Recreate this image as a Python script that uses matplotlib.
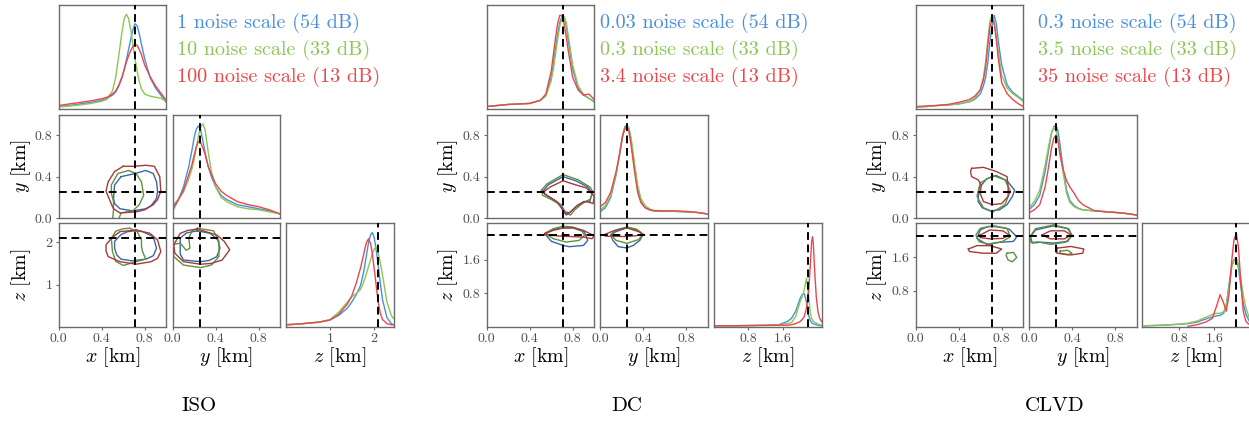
import numpy as np
import matplotlib.pyplot as plt

plt.rcParams['font.family'] = 'cmr10'
plt.rcParams['mathtext.fontset'] = 'cm'
plt.rcParams['axes.unicode_minus'] = False

# ---------------- data ----------------
# marginal curves are given as fraction of the panel height
# ISO
iso_x_grid = [0, 0.1, 0.2, 0.3, 0.4, 0.45, 0.5, 0.53, 0.56, 0.59, 0.61, 0.63, 0.65, 0.67, 0.69, 0.71, 0.73, 0.75, 0.77, 0.8, 0.85, 0.9, 0.95, 1.0]
iso_x_blue = [0.02, 0.03, 0.045, 0.06, 0.08, 0.1, 0.13, 0.16, 0.22, 0.3, 0.38, 0.47, 0.57, 0.67, 0.76, 0.82, 0.8, 0.72, 0.62, 0.48, 0.3, 0.2, 0.13, 0.06]
iso_x_green = [0.015, 0.025, 0.035, 0.05, 0.07, 0.09, 0.17, 0.3, 0.52, 0.75, 0.87, 0.91, 0.87, 0.76, 0.62, 0.48, 0.36, 0.26, 0.19, 0.14, 0.12, 0.11, 0.1, 0.07]
iso_x_red = [0.03, 0.045, 0.06, 0.075, 0.095, 0.11, 0.14, 0.17, 0.23, 0.31, 0.38, 0.45, 0.51, 0.56, 0.6, 0.62, 0.61, 0.57, 0.52, 0.42, 0.31, 0.22, 0.15, 0.08]

iso_y_grid = [0, 0.05, 0.1, 0.15, 0.18, 0.2, 0.22, 0.24, 0.26, 0.28, 0.3, 0.33, 0.36, 0.4, 0.45, 0.5, 0.6, 0.7, 0.8, 0.9, 1.0]
iso_y_blue = [0.07, 0.17, 0.3, 0.5, 0.66, 0.78, 0.86, 0.89, 0.85, 0.75, 0.64, 0.5, 0.4, 0.3, 0.22, 0.18, 0.13, 0.11, 0.09, 0.07, 0.04]
iso_y_green = [0.12, 0.18, 0.25, 0.38, 0.48, 0.57, 0.68, 0.8, 0.88, 0.91, 0.86, 0.64, 0.45, 0.3, 0.2, 0.16, 0.11, 0.09, 0.08, 0.06, 0.04]
iso_y_red = [0.1, 0.17, 0.27, 0.42, 0.52, 0.61, 0.69, 0.74, 0.73, 0.68, 0.62, 0.5, 0.42, 0.33, 0.26, 0.22, 0.16, 0.13, 0.11, 0.08, 0.04]

iso_z_grid = [0, 0.25, 0.5, 0.75, 1.0, 1.2, 1.4, 1.5, 1.6, 1.7, 1.77, 1.83, 1.88, 1.93, 1.97, 2.01, 2.05, 2.1, 2.15, 2.2, 2.3, 2.4, 2.45]
iso_z_blue = [0.02, 0.025, 0.035, 0.045, 0.065, 0.11, 0.18, 0.24, 0.31, 0.4, 0.53, 0.68, 0.81, 0.89, 0.91, 0.86, 0.76, 0.6, 0.42, 0.26, 0.09, 0.03, 0.02]
iso_z_green = [0.02, 0.025, 0.035, 0.045, 0.07, 0.14, 0.24, 0.29, 0.32, 0.36, 0.43, 0.51, 0.58, 0.65, 0.71, 0.75, 0.77, 0.72, 0.62, 0.5, 0.24, 0.11, 0.08]
iso_z_red = [0.02, 0.025, 0.035, 0.045, 0.065, 0.12, 0.22, 0.3, 0.42, 0.57, 0.7, 0.81, 0.85, 0.8, 0.7, 0.56, 0.42, 0.24, 0.13, 0.07, 0.03, 0.02, 0.02]

iso_xy_blue = [(0.58, 0.40), (0.71, 0.43), (0.81, 0.46), (0.88, 0.43), (0.91, 0.35), (0.92, 0.26), (0.91, 0.19),
               (0.86, 0.12), (0.81, 0.09), (0.69, 0.07), (0.57, 0.09), (0.52, 0.14), (0.51, 0.19), (0.52, 0.32)]
iso_xy_green = [(0.50, -0.03), (0.51, 0.08), (0.51, 0.16), (0.49, 0.24), (0.49, 0.32), (0.55, 0.43), (0.65, 0.46),
                (0.72, 0.43), (0.77, 0.35), (0.79, 0.22), (0.75, 0.13), (0.69, 0.07), (0.58, 0.05), (0.55, -0.03)]
iso_xy_red = [(0.60, 0.50), (0.70, 0.50), (0.81, 0.51), (0.89, 0.50), (0.94, 0.40), (0.95, 0.26), (0.92, 0.18),
              (0.88, 0.13), (0.80, 0.08), (0.72, 0.06), (0.57, 0.05), (0.51, 0.09), (0.48, 0.16), (0.44, 0.26),
              (0.46, 0.35), (0.52, 0.45)]
iso_xz_blue = [(0.71, 2.27), (0.78, 2.25), (0.88, 2.13), (0.91, 1.86), (0.88, 1.68), (0.81, 1.60), (0.68, 1.56),
               (0.58, 1.60), (0.54, 1.70), (0.52, 1.86), (0.52, 2.02), (0.58, 2.18), (0.64, 2.25)]
iso_xz_green = [(0.66, 2.33), (0.73, 2.25), (0.77, 2.05), (0.77, 1.90), (0.78, 1.78), (0.81, 1.60), (0.72, 1.54),
                (0.60, 1.45), (0.53, 1.55), (0.50, 1.78), (0.49, 2.09), (0.53, 2.26), (0.60, 2.32)]
iso_xz_red = [(0.72, 2.29), (0.85, 2.21), (0.92, 2.05), (0.95, 1.78), (0.92, 1.62), (0.86, 1.54), (0.72, 1.48),
              (0.57, 1.54), (0.46, 1.66), (0.44, 1.80), (0.44, 1.94), (0.50, 2.12), (0.57, 2.25)]
iso_yz_blue = [(0.23, 2.27), (0.35, 2.21), (0.42, 2.05), (0.44, 1.86), (0.41, 1.66), (0.34, 1.57), (0.26, 1.54),
               (0.10, 1.58), (0.07, 1.72), (0.07, 1.86), (0.07, 2.10), (0.13, 2.22)]
iso_yz_green = [(0.23, 2.33), (0.38, 2.27), (0.43, 2.02), (0.43, 1.66), (0.36, 1.46), (0.26, 1.40), (0.10, 1.46),
                (0.01, 1.66), (0.00, 1.94), (0.07, 1.98), (0.125, 1.81), (0.16, 1.86), (0.15, 2.10), (0.18, 2.27)]
iso_yz_red = [(0.23, 2.31), (0.41, 2.17), (0.48, 2.02), (0.53, 1.82), (0.46, 1.58), (0.36, 1.50), (0.26, 1.48),
              (0.10, 1.54), (0.02, 1.74), (0.01, 1.94), (0.07, 2.21), (0.14, 2.28)]

# DC
dc_x_grid = [0, 0.1, 0.2, 0.3, 0.4, 0.5, 0.55, 0.6, 0.62, 0.64, 0.66, 0.68, 0.7, 0.72, 0.74, 0.76, 0.8, 0.85, 0.9, 0.95, 1.0]
dc_x_blue = [0.02, 0.03, 0.04, 0.045, 0.05, 0.08, 0.13, 0.3, 0.43, 0.58, 0.72, 0.83, 0.89, 0.88, 0.8, 0.65, 0.38, 0.2, 0.13, 0.1, 0.07]
dc_x_green = [0.02, 0.03, 0.04, 0.045, 0.05, 0.08, 0.12, 0.27, 0.38, 0.52, 0.67, 0.8, 0.87, 0.89, 0.83, 0.7, 0.42, 0.22, 0.14, 0.1, 0.06]
dc_x_red = [0.02, 0.03, 0.04, 0.045, 0.05, 0.08, 0.14, 0.36, 0.52, 0.68, 0.82, 0.9, 0.9, 0.82, 0.69, 0.55, 0.3, 0.18, 0.13, 0.14, 0.09]

dc_y_grid = [0, 0.05, 0.1, 0.15, 0.18, 0.21, 0.23, 0.25, 0.27, 0.29, 0.32, 0.35, 0.38, 0.42, 0.46, 0.5, 0.6, 0.7, 0.8, 0.9, 1.0]
dc_y_blue = [0.06, 0.1, 0.2, 0.42, 0.6, 0.8, 0.88, 0.9, 0.86, 0.74, 0.5, 0.28, 0.16, 0.1, 0.08, 0.07, 0.065, 0.065, 0.06, 0.055, 0.04]
dc_y_green = [0.08, 0.12, 0.22, 0.43, 0.6, 0.79, 0.86, 0.89, 0.87, 0.77, 0.54, 0.32, 0.19, 0.12, 0.09, 0.075, 0.07, 0.065, 0.06, 0.055, 0.04]
dc_y_red = [0.11, 0.15, 0.25, 0.45, 0.61, 0.79, 0.86, 0.88, 0.83, 0.7, 0.46, 0.25, 0.15, 0.1, 0.08, 0.07, 0.07, 0.07, 0.065, 0.055, 0.04]

dc_z_grid = [0, 0.4, 0.8, 1.2, 1.5, 1.7, 1.8, 1.9, 2.0, 2.05, 2.1, 2.15, 2.2, 2.24, 2.27, 2.29, 2.31, 2.34, 2.38, 2.42, 2.46, 2.5]
dc_z_blue = [0.01, 0.01, 0.012, 0.015, 0.02, 0.05, 0.08, 0.15, 0.27, 0.31, 0.32, 0.24, 0.11, 0.06, 0.04, 0.035, 0.03, 0.025, 0.02, 0.015, 0.012, 0.01]
dc_z_green = [0.01, 0.01, 0.012, 0.015, 0.02, 0.03, 0.04, 0.1, 0.24, 0.29, 0.36, 0.47, 0.3, 0.13, 0.08, 0.065, 0.055, 0.045, 0.035, 0.025, 0.02, 0.015]
dc_z_red = [0.01, 0.01, 0.012, 0.013, 0.015, 0.015, 0.02, 0.03, 0.05, 0.07, 0.1, 0.18, 0.34, 0.6, 0.82, 0.87, 0.8, 0.55, 0.28, 0.14, 0.08, 0.05]

dc_xy_blue = [(0.525, 0.26), (0.57, 0.32), (0.71, 0.40), (0.83, 0.36), (0.94, 0.30), (0.98, 0.24), (0.96, 0.16),
              (0.90, 0.16), (0.82, 0.10), (0.77, 0.05), (0.73, 0.06), (0.69, 0.13), (0.62, 0.18), (0.54, 0.23)]
dc_xy_green = [(0.51, 0.27), (0.56, 0.33), (0.71, 0.42), (0.85, 0.37), (0.96, 0.30), (0.99, 0.25), (0.96, 0.18),
               (0.90, 0.15), (0.82, 0.08), (0.78, 0.03), (0.72, 0.05), (0.68, 0.13), (0.60, 0.18), (0.52, 0.22)]
dc_xy_red = [(0.525, 0.25), (0.59, 0.30), (0.71, 0.36), (0.83, 0.32), (0.93, 0.29), (1.00, 0.21), (0.99, 0.14),
             (0.93, 0.16), (0.85, 0.13), (0.79, 0.07), (0.74, 0.03), (0.70, 0.09), (0.65, 0.16), (0.56, 0.22)]
dc_xz_blue = [(0.71, 2.36), (0.80, 2.36), (0.91, 2.26), (0.94, 2.06), (0.90, 1.94), (0.77, 1.91), (0.71, 1.94),
              (0.60, 2.04), (0.54, 2.22), (0.62, 2.32)]
dc_xz_green = [(0.71, 2.40), (0.80, 2.38), (0.88, 2.31), (0.91, 2.18), (0.86, 2.06), (0.74, 2.02), (0.62, 2.10),
               (0.54, 2.23), (0.62, 2.34)]
dc_xz_red = [(0.54, 2.22), (0.62, 2.30), (0.70, 2.35), (0.80, 2.36), (0.90, 2.30), (0.96, 2.22), (1.00, 2.18),
             (0.98, 2.10), (0.90, 2.14), (0.80, 2.15), (0.70, 2.16), (0.60, 2.18)]
dc_yz_blue = [(0.25, 2.36), (0.34, 2.31), (0.40, 2.20), (0.37, 2.06), (0.31, 1.94), (0.25, 1.88), (0.17, 1.91),
              (0.12, 2.06), (0.10, 2.18), (0.14, 2.26)]
dc_yz_green = [(0.25, 2.38), (0.34, 2.33), (0.40, 2.21), (0.36, 2.08), (0.25, 1.99), (0.15, 2.06), (0.10, 2.20),
               (0.15, 2.31)]
dc_yz_red = [(0.01, 2.20), (0.06, 2.16), (0.11, 2.16), (0.25, 2.15), (0.40, 2.19), (0.37, 2.26), (0.25, 2.36),
             (0.14, 2.30), (0.06, 2.22), (0.02, 2.18)]

# CLVD
clvd_x_grid = [0, 0.1, 0.2, 0.3, 0.4, 0.5, 0.55, 0.6, 0.63, 0.65, 0.67, 0.69, 0.71, 0.73, 0.75, 0.77, 0.8, 0.85, 0.9, 0.95, 1.0]
clvd_x_blue = [0.015, 0.02, 0.03, 0.035, 0.045, 0.065, 0.09, 0.14, 0.22, 0.3, 0.44, 0.64, 0.8, 0.9, 0.82, 0.64, 0.42, 0.23, 0.16, 0.12, 0.08]
clvd_x_green = [0.015, 0.02, 0.03, 0.035, 0.045, 0.07, 0.1, 0.18, 0.3, 0.45, 0.66, 0.84, 0.9, 0.84, 0.7, 0.54, 0.32, 0.2, 0.145, 0.11, 0.07]
clvd_x_red = [0.02, 0.025, 0.03, 0.04, 0.06, 0.087, 0.12, 0.18, 0.28, 0.4, 0.6, 0.78, 0.87, 0.82, 0.66, 0.47, 0.25, 0.145, 0.09, 0.05, 0.02]

clvd_y_grid = [0, 0.05, 0.1, 0.15, 0.18, 0.21, 0.23, 0.25, 0.27, 0.29, 0.32, 0.35, 0.38, 0.42, 0.46, 0.5, 0.6, 0.7, 0.8, 0.9, 1.0]
clvd_y_blue = [0.08, 0.13, 0.22, 0.45, 0.64, 0.82, 0.88, 0.9, 0.84, 0.7, 0.46, 0.27, 0.17, 0.12, 0.095, 0.08, 0.07, 0.064, 0.055, 0.045, 0.03]
clvd_y_green = [0.1, 0.16, 0.27, 0.51, 0.68, 0.83, 0.87, 0.85, 0.76, 0.63, 0.42, 0.24, 0.15, 0.11, 0.09, 0.08, 0.07, 0.064, 0.055, 0.045, 0.03]
clvd_y_red = [0.05, 0.08, 0.13, 0.3, 0.48, 0.68, 0.77, 0.8, 0.74, 0.6, 0.46, 0.36, 0.3, 0.24, 0.17, 0.13, 0.075, 0.06, 0.055, 0.045, 0.03]

clvd_z_grid = [0, 0.4, 0.8, 1.0, 1.2, 1.4, 1.55, 1.65, 1.73, 1.81, 1.87, 1.93, 2.0, 2.05, 2.1, 2.15, 2.2, 2.26, 2.32, 2.4]
clvd_z_blue = [0.01, 0.015, 0.025, 0.03, 0.045, 0.075, 0.095, 0.105, 0.11, 0.13, 0.2, 0.4, 0.6, 0.65, 0.66, 0.56, 0.4, 0.22, 0.12, 0.05]
clvd_z_green = [0.01, 0.015, 0.025, 0.035, 0.055, 0.09, 0.12, 0.13, 0.13, 0.145, 0.2, 0.38, 0.58, 0.64, 0.66, 0.6, 0.47, 0.3, 0.18, 0.08]
clvd_z_red = [np.nan, np.nan, np.nan, 0.005, 0.02, 0.045, 0.08, 0.2, 0.31, 0.23, 0.15, 0.3, 0.66, 0.85, 0.9, 0.76, 0.44, 0.145, 0.05, 0.02]

clvd_xy_blue = [(0.75, 0.41), (0.85, 0.36), (0.92, 0.27), (0.90, 0.21), (0.85, 0.13), (0.78, 0.08), (0.69, 0.07),
                (0.62, 0.10), (0.58, 0.16), (0.59, 0.29), (0.66, 0.38)]
clvd_xy_green = [(0.72, 0.41), (0.83, 0.37), (0.88, 0.26), (0.83, 0.13), (0.72, 0.06), (0.63, 0.10), (0.57, 0.21),
                 (0.60, 0.34)]
clvd_xy_red = [(0.52, 0.48), (0.63, 0.49), (0.75, 0.45), (0.85, 0.40), (0.86, 0.30), (0.86, 0.21), (0.80, 0.14),
               (0.71, 0.13), (0.63, 0.16), (0.60, 0.24), (0.61, 0.32), (0.58, 0.37), (0.52, 0.40), (0.51, 0.45)]
clvd_xz_blue = [(0.75, 2.32), (0.87, 2.26), (0.94, 2.08), (0.91, 1.97), (0.75, 1.94), (0.66, 1.90), (0.57, 2.04),
                (0.60, 2.24), (0.67, 2.32)]
clvd_xz_green = [(0.72, 2.34), (0.85, 2.28), (0.88, 2.08), (0.81, 1.97), (0.69, 1.90), (0.59, 1.96), (0.56, 2.12),
                 (0.60, 2.28)]
clvd_xz_green2 = [(0.85, 1.69), (0.91, 1.71), (0.94, 1.59), (0.90, 1.49), (0.86, 1.53), (0.84, 1.64)]
clvd_xz_red = [(0.60, 2.12), (0.69, 2.24), (0.81, 2.22), (0.87, 2.12), (0.81, 2.04), (0.69, 2.03), (0.60, 2.06)]
clvd_xz_red2 = [(0.49, 1.79), (0.57, 1.87), (0.69, 1.87), (0.80, 1.79), (0.75, 1.69), (0.63, 1.69), (0.50, 1.73)]
clvd_yz_blue = [(0.23, 2.34), (0.36, 2.27), (0.40, 2.12), (0.36, 1.97), (0.23, 1.93), (0.11, 1.95), (0.03, 1.93),
                (0.015, 2.08), (0.06, 2.24)]
clvd_yz_green = [(0.23, 2.36), (0.37, 2.27), (0.40, 2.10), (0.34, 1.95), (0.20, 1.90), (0.08, 1.96), (0.02, 1.94),
                 (0.01, 2.08), (0.06, 2.27)]
clvd_yz_green2 = [(0.29, 1.74), (0.36, 1.76), (0.40, 1.69), (0.36, 1.65), (0.29, 1.69)]
clvd_yz_red = [(0.12, 2.12), (0.20, 2.22), (0.33, 2.22), (0.39, 2.12), (0.33, 2.03), (0.20, 2.03)]
clvd_yz_red2 = [(0.26, 1.81), (0.39, 1.85), (0.51, 1.79), (0.50, 1.69), (0.39, 1.65), (0.26, 1.69)]

iso_legend = ['1 noise scale (54 dB)', '10 noise scale (33 dB)', '100 noise scale (13 dB)']
dc_legend = ['0.03 noise scale (54 dB)', '0.3 noise scale (33 dB)', '3.4 noise scale (13 dB)']
clvd_legend = ['0.3 noise scale (54 dB)', '3.5 noise scale (33 dB)', '35 noise scale (13 dB)']

# ---------------- styling ----------------
line_col = ['#4a8fdc', '#8dc653', '#e9474b']
cont_col = ['#3767a6', '#62903c', '#a63a3c']

W, H = 1249, 422
fig = plt.figure(figsize=(W / 100, H / 100), dpi=100)

row_top = [5, 114.5, 223.2]
AW, AH = 107.5, 103.6


def px_ax(left, top):
    return fig.add_axes([left / W, 1 - (top + AH) / H, AW / W, AH / H])


def style(ax):
    for s in ax.spines.values():
        s.set_color('0.42')
        s.set_linewidth(1.0)
    ax.tick_params(colors='0.42', labelcolor='0.3', labelsize=10, length=2.5, width=0.8, pad=2)
    ax.set_xticks([])
    ax.set_yticks([])


def truth(ax, v=None, h=None):
    if v is not None:
        ax.axvline(v, color='k', ls=(0, (4, 2.4)), lw=1.4, zorder=5)
    if h is not None:
        ax.axhline(h, color='k', ls=(0, (4, 2.4)), lw=1.4, zorder=5)


def contours(ax, polys):
    for pts, c in polys:
        pts = list(pts) + [pts[0]]
        xs, ys = zip(*pts)
        ax.plot(xs, ys, color=c, lw=1.0, solid_joinstyle='round')


panels = [
    dict(cols=[58.7, 172.7, 286], tx=0.71, ty=0.25, tz=2.1, zlim=(0, 2.45), zrow_lim=(0, 2.45),
         zt=[1, 2], ztl=['1', '2'],
         mx=(iso_x_grid, [iso_x_blue, iso_x_green, iso_x_red]),
         my=(iso_y_grid, [iso_y_blue, iso_y_green, iso_y_red]),
         mz=(iso_z_grid, [iso_z_blue, iso_z_green, iso_z_red]),
         xy=[(iso_xy_blue, cont_col[0]), (iso_xy_green, cont_col[1]), (iso_xy_red, cont_col[2])],
         xz=[(iso_xz_blue, cont_col[0]), (iso_xz_green, cont_col[1]), (iso_xz_red, cont_col[2])],
         yz=[(iso_yz_blue, cont_col[0]), (iso_yz_green, cont_col[1]), (iso_yz_red, cont_col[2])],
         legend=iso_legend, leg_x=177, title='ISO', title_x=199, ylab_x=-0.35),
    dict(cols=[486.7, 600, 714], tx=0.71, ty=0.25, tz=2.18, zlim=(0, 2.5), zrow_lim=(0, 2.47),
         zt=[0.8, 1.6], ztl=['0.8', '1.6'],
         mx=(dc_x_grid, [dc_x_blue, dc_x_green, dc_x_red]),
         my=(dc_y_grid, [dc_y_blue, dc_y_green, dc_y_red]),
         mz=(dc_z_grid, [dc_z_blue, dc_z_green, dc_z_red]),
         xy=[(dc_xy_blue, cont_col[0]), (dc_xy_green, cont_col[1]), (dc_xy_red, cont_col[2])],
         xz=[(dc_xz_blue, cont_col[0]), (dc_xz_green, cont_col[1]), (dc_xz_red, cont_col[2])],
         yz=[(dc_yz_blue, cont_col[0]), (dc_yz_green, cont_col[1]), (dc_yz_red, cont_col[2])],
         legend=dc_legend, leg_x=600, title='DC', title_x=627, ylab_x=-0.36),
    dict(cols=[915.7, 1029, 1142], tx=0.71, ty=0.25, tz=2.1, zlim=(-0.05, 2.4), zrow_lim=(-0.05, 2.4),
         zt=[0.8, 1.6], ztl=['0.8', '1.6'],
         mx=(clvd_x_grid, [clvd_x_blue, clvd_x_green, clvd_x_red]),
         my=(clvd_y_grid, [clvd_y_blue, clvd_y_green, clvd_y_red]),
         mz=(clvd_z_grid, [clvd_z_blue, clvd_z_green, clvd_z_red]),
         xy=[(clvd_xy_blue, cont_col[0]), (clvd_xy_green, cont_col[1]), (clvd_xy_red, cont_col[2])],
         xz=[(clvd_xz_blue, cont_col[0]), (clvd_xz_green, cont_col[1]), (clvd_xz_green2, cont_col[1]),
             (clvd_xz_red, cont_col[2]), (clvd_xz_red2, cont_col[2])],
         yz=[(clvd_yz_blue, cont_col[0]), (clvd_yz_green, cont_col[1]), (clvd_yz_green2, cont_col[1]),
             (clvd_yz_red, cont_col[2]), (clvd_yz_red2, cont_col[2])],
         legend=clvd_legend, leg_x=1038, title='CLVD', title_x=1055, ylab_x=-0.36),
]

unit_ticks = [0, 0.4, 0.8]
unit_labels = ['0.0', '0.4', '0.8']
lab_fs = 14.3

for p in panels:
    c0, c1, c2 = p['cols']
    ax_x = px_ax(c0, row_top[0])
    ax_xy = px_ax(c0, row_top[1])
    ax_y = px_ax(c1, row_top[1])
    ax_xz = px_ax(c0, row_top[2])
    ax_yz = px_ax(c1, row_top[2])
    ax_z = px_ax(c2, row_top[2])
    for ax in [ax_x, ax_xy, ax_y, ax_xz, ax_yz, ax_z]:
        style(ax)

    # 1-d marginals
    for ax, key in [(ax_x, 'mx'), (ax_y, 'my'), (ax_z, 'mz')]:
        grid, series = p[key]
        for vals, c in zip(series, line_col):
            ax.plot(grid, vals, color=c, lw=1.0, solid_joinstyle='round')
        ax.set_ylim(0, 1)
    ax_x.set_xlim(0, 1)
    ax_y.set_xlim(0, 1)
    ax_z.set_xlim(*p['zlim'])
    truth(ax_x, v=p['tx'])
    truth(ax_y, v=p['ty'])
    truth(ax_z, v=p['tz'])

    # 2-d contours
    contours(ax_xy, p['xy'])
    contours(ax_xz, p['xz'])
    contours(ax_yz, p['yz'])
    ax_xy.set_xlim(0, 1)
    ax_xy.set_ylim(0, 1)
    ax_xz.set_xlim(0, 1)
    ax_xz.set_ylim(*p['zrow_lim'])
    ax_yz.set_xlim(0, 1)
    ax_yz.set_ylim(*p['zrow_lim'])
    truth(ax_xy, v=p['tx'], h=p['ty'])
    truth(ax_xz, v=p['tx'], h=p['tz'])
    truth(ax_yz, v=p['ty'], h=p['tz'])

    # ticks and labels
    ax_xy.set_yticks(unit_ticks, unit_labels)
    ax_xz.set_yticks(p['zt'], p['ztl'])
    ax_xz.set_xticks(unit_ticks, unit_labels)
    ax_yz.set_xticks(unit_ticks, unit_labels)
    ax_z.set_xticks(p['zt'], p['ztl'])

    ax_xy.set_ylabel('$y$ [km]', fontsize=lab_fs, va='center')
    ax_xz.set_ylabel('$z$ [km]', fontsize=lab_fs, va='center')
    ax_xy.yaxis.set_label_coords(p['ylab_x'], 0.5)
    ax_xz.yaxis.set_label_coords(p['ylab_x'], 0.5)
    for ax, t in [(ax_xz, '$x$ [km]'), (ax_yz, '$y$ [km]'), (ax_z, '$z$ [km]')]:
        ax.set_xlabel(t, fontsize=lab_fs, va='center')
        ax.xaxis.set_label_coords(0.5, -0.29)

    for i, (txt, c) in enumerate(zip(p['legend'], line_col)):
        fig.text(p['leg_x'] / W, 1 - (22.5 + 27 * i) / H, txt, color=c, fontsize=14.5,
                 ha='left', va='center')
    fig.text(p['title_x'] / W, 1 - 406.5 / H, p['title'], fontsize=15, ha='center', va='center')

fig.savefig('out.png', dpi=100)
